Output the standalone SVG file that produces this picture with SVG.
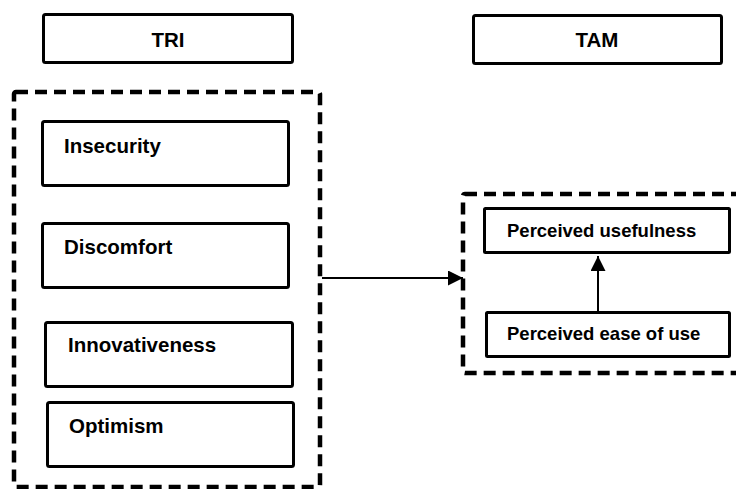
<svg xmlns="http://www.w3.org/2000/svg" width="736" height="489" viewBox="0 0 736 489">
  <style>
    .box { fill: #fff; stroke: #000; stroke-width: 3; }
    .group { fill: none; stroke: #000; stroke-width: 4.5; stroke-dasharray: 12 7; }
    .lbl { font-family: "Liberation Sans", Arial, sans-serif; font-weight: bold; fill: #000; }
    .big { font-size: 20.5px; }
    .small { font-size: 18.5px; }
    .link { stroke: #000; stroke-width: 2; fill: none; }
  </style>
  <defs>
    <marker id="head" viewBox="0 0 10 10" refX="10" refY="5" markerUnits="userSpaceOnUse" markerWidth="15" markerHeight="15" orient="auto">
      <path d="M0,0 L10,5 L0,10 Z" fill="#000"/>
    </marker>
  </defs>
  <rect width="736" height="489" fill="#fff"/>

  <!-- column headers -->
  <g id="tri-header">
    <rect class="box" x="43.5" y="14.5" width="249" height="48" rx="2"/>
    <text class="lbl big" x="168" y="47" text-anchor="middle">TRI</text>
  </g>
  <g id="tam-header">
    <rect class="box" x="473.5" y="15.5" width="248" height="48" rx="2"/>
    <text class="lbl big" x="597" y="47" text-anchor="middle">TAM</text>
  </g>

  <!-- TRI dimensions -->
  <g id="tri-group">
    <rect class="group" x="14" y="92" width="306" height="395" rx="2"/>
  </g>
  <g id="insecurity">
    <rect class="box" x="42.5" y="121.5" width="246" height="64" rx="2"/>
    <text class="lbl big" x="64" y="153">Insecurity</text>
  </g>
  <g id="discomfort">
    <rect class="box" x="42.5" y="223.5" width="246" height="64" rx="2"/>
    <text class="lbl big" x="64" y="254">Discomfort</text>
  </g>
  <g id="innovativeness">
    <rect class="box" x="45.5" y="322.5" width="247" height="64" rx="2"/>
    <text class="lbl big" x="68" y="352">Innovativeness</text>
  </g>
  <g id="optimism">
    <rect class="box" x="47.5" y="402.5" width="246" height="64" rx="2"/>
    <text class="lbl big" x="69" y="433">Optimism</text>
  </g>

  <!-- TAM constructs -->
  <g id="tam-group">
    <rect class="group" x="463" y="194" width="290" height="179" rx="2"/>
  </g>
  <g id="perceived-usefulness">
    <rect class="box" x="484.5" y="208.5" width="245" height="44" rx="1"/>
    <text class="lbl small" x="507" y="237">Perceived usefulness</text>
  </g>
  <g id="perceived-ease-of-use">
    <rect class="box" x="486.5" y="312.5" width="243" height="44" rx="1"/>
    <text class="lbl small" x="507" y="340">Perceived ease of use</text>
  </g>

  <!-- connectors -->
  <g id="connectors">
    <line class="link" x1="322" y1="278" x2="463" y2="278" marker-end="url(#head)"/>
    <line class="link" x1="598" y1="312" x2="598" y2="256" marker-end="url(#head)"/>
  </g>
</svg>
